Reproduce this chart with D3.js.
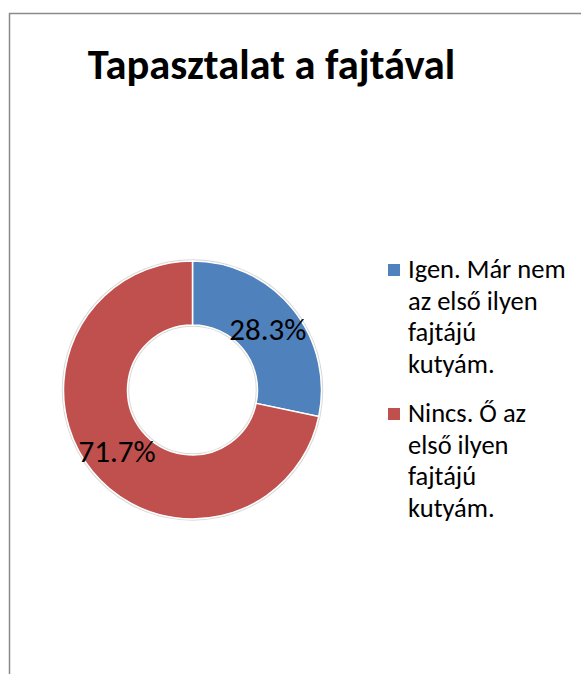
<!DOCTYPE html>
<html>
<head>
<meta charset="utf-8">
<script src="https://cdn.jsdelivr.net/npm/d3@7"></script>
<style>
  body { margin: 0; background: #fff; }
  text { font-family: Carlito, Calibri, Lato, sans-serif; fill: #000; }
</style>
</head>
<body>
<svg class="donut-frame"></svg>
<script>
const categories = ["Igen. Már nem az első ilyen fajtájú kutyám.", "Nincs. Ő az első ilyen fajtájú kutyám."];
const values = [28.3, 71.7];
const legendLines = [
  ["Igen. Már nem", "az első ilyen", "fajtájú", "kutyám."],
  ["Nincs. Ő az", "első ilyen", "fajtájú", "kutyám."]
];
const title = "Tapasztalat a fajtával";

const width = 581, height = 674;
const cx = 192.5, cy = 390, outerR = 129, innerR = 65;

const svg = d3.select(".donut-frame")
  .attr("width", width)
  .attr("height", height);

// chart area border (only left and top visible in the crop)
svg.append("rect")
  .attr("x", 9.5)
  .attr("y", 13.5)
  .attr("width", width + 20)
  .attr("height", height + 20)
  .attr("fill", "#fff")
  .attr("stroke", "#8a8a8a")
  .attr("stroke-width", 1.5);

svg.append("text")
  .attr("x", 271.5)
  .attr("y", 79)
  .attr("text-anchor", "middle")
  .attr("font-size", "42.5px")
  .attr("font-weight", "bold")
  .text(title);

const color = d3.scaleOrdinal()
  .domain(categories)
  .range(["#4F81BD", "#C0504D"]);

const data = categories.map((c, i) => ({ cat: c, value: values[i] }));

const pie = d3.pie()
  .sort(null)
  .value(d => d.value);

const arc = d3.arc()
  .innerRadius(innerR)
  .outerRadius(outerR);

const labelArc = d3.arc()
  .innerRadius((innerR + outerR) / 2)
  .outerRadius((innerR + outerR) / 2);

const graph = svg.append("g")
  .attr("transform", "translate(" + cx + "," + cy + ")");

// faint edge like the office bevel
graph.append("circle")
  .attr("r", outerR + 1)
  .attr("fill", "none")
  .attr("stroke", "#d9d9d9")
  .attr("stroke-width", 1.5);
graph.append("circle")
  .attr("r", innerR - 1)
  .attr("fill", "none")
  .attr("stroke", "#d9d9d9")
  .attr("stroke-width", 1.5);

graph.selectAll("path.slice")
  .data(pie(data))
  .enter().append("path")
  .attr("class", "slice")
  .attr("d", arc)
  .attr("fill", d => color(d.data.cat))
  .attr("stroke", "#fff")
  .attr("stroke-width", 1.5);

graph.selectAll("text.lbl")
  .data(pie(data))
  .enter().append("text")
  .attr("class", "lbl")
  .attr("transform", d => "translate(" + labelArc.centroid(d) + ")")
  .attr("text-anchor", "middle")
  .attr("dy", "0.36em")
  .attr("font-size", "31px")
  .text(d => d3.format(".1f")(d.value) + "%");

// legend
const legend = svg.append("g")
  .attr("class", "legend");

const lineH = 31.5;
const blockGap = 18;
let y = 278;
legendLines.forEach((lines, i) => {
  legend.append("rect")
    .attr("x", 388)
    .attr("y", y - 14)
    .attr("width", 12)
    .attr("height", 12)
    .attr("fill", color(categories[i]));
  lines.forEach((ln, j) => {
    legend.append("text")
      .attr("x", 408)
      .attr("y", y + j * lineH)
      .attr("font-size", "26.5px")
      .text(ln);
  });
  y += lines.length * lineH + blockGap;
});
</script>
</body>
</html>
